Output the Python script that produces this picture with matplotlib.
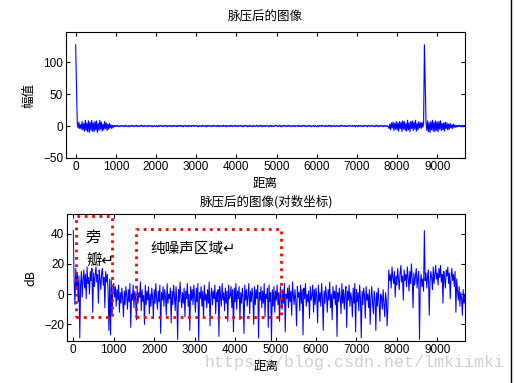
import numpy as np
import matplotlib
matplotlib.use('Agg')
import matplotlib.pyplot as plt
from matplotlib.lines import Line2D

plt.rcParams['font.family'] = ['Noto Sans CJK SC', 'DejaVu Sans']

# sample step of the hand-read curves (range bins)
step = 20

# amplitude after pulse compression (top panel)
amp = [127, 63, 5, -3, 6, -4, 2, -5, 7, -6, 4, -8, 9, -7, 5, -9, 8, -10, 6, -7,
       9, -8, 5, -9, 7, -6, 8, -10, 4, -7, 9, -5, 6, -8, 3, -6, 7, -4, 5, -7,
       3, -5, 4, -3, 2, -4, 1, -2, 1, -1,
       0.8, -0.5, 1.1, -0.9, 0.3, -1.2, 0.7, -0.4, 1.0, -0.8, 0.5, -1.1, 1.3, -0.6, 0.2, -0.9, 0.8, -1.3, 0.6, -0.3,
       1.2, -0.7, 0.4, -1.0, 0.9, -0.5, 1.1, -1.2, 0.3, -0.8, 0.7, -0.4, 1.3, -0.9, 0.5, -1.1, 0.8, -0.6, 0.2, -1.0,
       1.2, -0.7, 0.6, -0.3, 0.9, -1.3, 0.4, -0.8, 1.0, -0.5,
       -0.6, 1.0, -1.2, 0.4, -0.7, 1.3, -0.2, 0.8, -1.0, 0.5, -0.9, 1.1, -0.3, 0.7, -1.3, 0.6, -0.4, 1.2, -0.8, 0.3,
       -1.1, 0.9, -0.5, 1.0, -0.7, 0.2, -1.2, 1.3, -0.6, 0.8, -0.4, 1.1, -0.9, 0.5, -1.3, 0.7, -0.2, 1.0, -0.8, 0.4,
       -1.1, 1.2, -0.5, 0.6, -1.0, 0.9, -0.3, 1.3, -0.7, 0.5,
       1.1, -0.8, 0.3, -1.2, 0.9, -0.4, 0.6, -1.0, 1.3, -0.5, 0.2, -0.9, 1.0, -1.3, 0.7, -0.3, 1.2, -0.6, 0.4, -1.1,
       0.8, -0.7, 1.3, -0.2, 0.5, -1.0, 0.9, -0.6, 1.1, -1.2, 0.3, -0.5, 0.7, -0.9, 1.2, -0.4, 0.6, -1.3, 1.0, -0.7,
       0.2, -0.8, 1.1, -0.5, 0.9, -1.1, 0.4, -0.3, 1.3, -0.9,
       -0.4, 0.9, -1.1, 0.6, -0.2, 1.2, -0.8, 0.5, -1.3, 0.7, -0.6, 1.0, -0.3, 0.8, -1.2, 0.4, -0.9, 1.3, -0.5, 0.2,
       -1.0, 1.1, -0.7, 0.3, -0.8, 1.2, -0.4, 0.6, -1.1, 0.9, -0.2, 1.0, -1.3, 0.5, -0.6, 0.8, -0.9, 1.1, -0.3, 0.4,
       -1.2, 0.7, -0.5, 1.3, -0.8, 0.2, -1.0, 0.6, -0.4, 1.1,
       0.7, -1.0, 0.4, -0.6, 1.2, -0.9, 0.3, -1.3, 0.8, -0.2, 1.1, -0.7, 0.5, -1.0, 0.9, -0.4, 1.3, -0.8, 0.2, -1.1,
       0.6, -0.5, 1.0, -1.2, 0.4, -0.3, 0.8, -0.9, 1.2, -0.6, 0.5, -1.1, 0.9, -0.2, 1.3, -0.7, 0.3, -1.0, 0.6, -0.8,
       1.1, -0.4, 0.7, -1.3, 0.2, -0.5, 1.0, -0.9, 0.8, -0.6,
       -0.9, 0.5, -1.2, 1.0, -0.3, 0.7, -0.8, 1.3, -0.5, 0.2, -1.1, 0.9, -0.6, 0.4, -1.0, 1.2, -0.2, 0.8, -1.3, 0.6,
       -0.4, 1.1, -0.7, 0.3, -0.9, 1.0, -0.5, 0.2, -1.2, 0.8, -0.6, 1.3, -0.3, 0.5, -1.0, 0.9, -0.8, 0.4, -1.1, 0.7,
       -0.2, 1.2, -0.6, 0.3, -0.9, 1.0, -0.4, 0.6, -1.3, 0.8,
       0.5, -1.0, 0.9, -0.4, 1.2, -0.7, 0.3, -1.1, 0.8, -0.6, 1.0, -0.2, 0.6, -1.3, 0.9, -0.5, 0.4, -0.8, 1.1, -0.3,
       0.7, -1.0, 0.2, -0.9, 1.3, -0.6, 0.5, -1.2, 0.8, -0.4, 1.0, -0.7, 0.3, -1.1, 0.9, -0.5, 0.6, -1.0, 0.4, -0.8,
       -4, 3, -6, 5, -3, 6, -7, 4, -5, 7,
       -6, 5, -8, 7, -4, 6, -9, 8, -5, 7, -7, 4, -8, 9, -6, 5, -9, 7, -4, 8,
       -7, 6, -5, 9, -8, 4, -6, 7, -3, 5, -4, 6, -2, 4, 127, 63, 6, -7, 8, -9,
       5, -10, 7, -6, 9, -8, 6, -9, 8, -7,
       6, -9, 7, -5, 8, -7, 4, -6, 5, -8, 6, -4, 5, -6, 3, -5, 4, -3, 2, -4,
       3, -2, 1.5, -2, 1, -1.5, 1.2, -0.8, 1.5, -1.2, 0.9, -1.4, 1.3, -0.7, 1.1, -1.5, 0.8, -1.0, 1.4, -1.2,
       0.6, -0.9, 1.2, -1.3, 0.7, -0.8]

# same echo in dB (bottom panel)
db = [42, 8, -7, 17, 3, 14, -5, 12, -29, 6, 15, -2, 10, 16, 4, 13, -3, 18, 7, 11,
      0, 15, 9, 17, -12, 14, 5, 12, 18, 8, 13, -6, 16, 10, 3, 14, 17, 6, 11, -9,
      15, 8, 13, 2, -24, 10, -27, 9, -14, 5,
      7, -2, 5, -8, 3, -4, 6, -12, 1, -6, 4, -3, -15, 2, -7, 5, -1, -10, 3, -5,
      7, -22, 0, -4, 6, -9, 2, -3, -17, 4, -6, 1, -2, 8, -11, 3, -5, -1, -20, 6,
      -7, 2, -4, 5, -13, 0, -8, 4, -2, -16,
      3, -6, 7, -3, -10, 2, -5, 6, -26, 1, -4, 5, -8, 3, -2, -14, 7, -6, 0, -3,
      4, -19, 2, -7, 6, -1, -11, 5, -4, -30, 3, -5, 8, -2, -9, 1, -6, 4, -15, 2,
      -3, 7, -8, 0, -24, 5, -4, 3, -7, 6,
      -2, -12, 4, -5, 7, -31, 1, -3, 5, -8, 2, -16, 6, -4, 0, -9, 3, -6, 8, -21,
      -1, 4, -7, 2, -3, 6, -13, 1, -5, 3, -28, 5, -2, -8, 7, -4, 1, -11, 4, -6,
      2, -18, 6, -3, -1, 5, -9, 3, -25, 4,
      -5, 7, -10, 2, -3, 5, -17, 1, -6, 4, -2, -26, 6, -4, 3, -8, 0, 7, -13, 2,
      -5, 4, -1, -20, 5, -7, 3, -3, 6, -29, 1, -4, 5, -9, 2, -6, 7, -15, 0, -3,
      4, -22, 6, -5, 1, -31, 3, -8, 5, -12,
      2, -4, 6, -7, 1, -18, 5, -2, -10, 3, -6, 7, -25, 0, -3, 4, -9, 6, -5, 2,
      -14, 8, -1, -7, 3, -4, -21, 5, -2, 1, -11, 6, -6, 3, -27, 4, -3, 7, -8, 0,
      -5, 2, -16, 5, -4, -1, 6, -12, 3, -7,
      4, -2, -19, 6, -5, 1, -8, 7, -3, -24, 2, -6, 5, -1, -12, 3, -4, 8, -9, 0,
      -17, 5, -3, 2, -7, 6, -28, 1, -5, 4, -2, -13, 7, -6, 3, -10, 0, 5, -22, 2,
      -4, 6, -8, 1, -3, -15, 4, -6, 7, -25,
      3, -5, 1, -11, 6, -3, -29, 2, -7, 4, -1, -16, 5, -4, 0, -9, 3, -20, -2, 5,
      -6, -13, 2, -3, -24, 1, -8, 4, -5, -18, 0, -2, -10, 3, -6, -15, 1, -4, -21, -7,
      16, 9, 13, 4, 18, 11, 7, 15, -2, 12,
      6, 17, 10, 3, 14, 19, 8, 12, -4, 16, 9, 13, 5, 18, 11, 2, 15, 7, 20, 10,
      -9, 14, 6, 12, 17, 4, 11, 15, -30, 8, 13, 5, 10, 2, 42, 9, 14, 4, 12, 16,
      -14, 8, 15, 11, 3, 18, 7, 13, 19, 10,
      14, 6, 17, 11, 19, 8, 13, -6, 15, 10, 4, 16, 12, 18, 7, 14, -3, 11, 17, 9,
      13, 5, 15, -12, 10, 2, -4, 5, -8, 1, -3, -14, 3, -6, 0, -10, -2, 4, -7, -20,
      -1, -28, 2, -31, -5, 8]

rng_amp = np.arange(len(amp)) * step
rng_db = np.arange(len(db)) * step

# dotted annotation boxes (x0, x1, y0, y1) in data units
side_box = (70, 960, -15, 51.5)
noise_box = (1550, 5135, -15, 43)

xticks = list(range(0, 10000, 1000))
cjk = ['Noto Sans CJK SC', 'DejaVu Sans']

fig = plt.figure(figsize=(5.15, 3.83), dpi=100)
ax1 = fig.add_axes([66/515, 1-158/383, 399/515, 126/383])
ax2 = fig.add_axes([67/515, 1-341/383, 398/515, 127/383])

blue = '#0000ff'
ax1.plot(rng_amp, amp, color=blue, lw=0.8)
ax1.set_xlim(-240, 9690)
ax1.set_ylim(-50, 147)
ax1.set_yticks([-50, 0, 50, 100])
ax1.set_title('脉压后的图像', fontsize=9, pad=8)
ax1.set_xlabel('距离', fontsize=9, labelpad=3)
ax1.set_ylabel('幅值', fontsize=9, labelpad=5.5)

ax2.plot(rng_db, db, color=blue, lw=0.75)
ax2.set_xlim(-156, 9685)
ax2.set_ylim(-31, 53)
ax2.set_yticks([-20, 0, 20, 40])
ax2.set_title('脉压后的图像(对数坐标)', fontsize=9, pad=6)
ax2.set_xlabel('距离', fontsize=9, labelpad=3)
ax2.set_ylabel('dB', fontsize=9, labelpad=5)

for ax in (ax1, ax2):
    ax.set_xticks(xticks)
    ax.tick_params(direction='in', top=True, right=True, labelsize=8.5, length=3, pad=2)
    for lbl in ax.get_xticklabels() + ax.get_yticklabels():
        lbl.set_family(['Liberation Sans', 'DejaVu Sans'])

for x0, x1, y0, y1 in (side_box, noise_box):
    ax2.plot([x0, x1, x1, x0, x0], [y0, y0, y1, y1, y0], color='red', ls=':', lw=2)

ax2.text(314, 37.5, '旁', fontsize=11, ha='left', va='center', family=cjk)
ax2.text(314, 22, '瓣↵', fontsize=11, ha='left', va='center', family=cjk)
ax2.text(1896, 30, '纯噪声区域↵', fontsize=10.5, ha='left', va='center', family=cjk)

fig.text(205/515, 1-363/383, 'https://blog.csdn.net/lmkiimki', fontsize=12, color='#d0d0d0',
         family='Liberation Mono', va='center', ha='left')

fig.add_artist(Line2D([511/515, 511/515], [0, 1], color='black', lw=1))

fig.savefig('out.png', dpi=100)
